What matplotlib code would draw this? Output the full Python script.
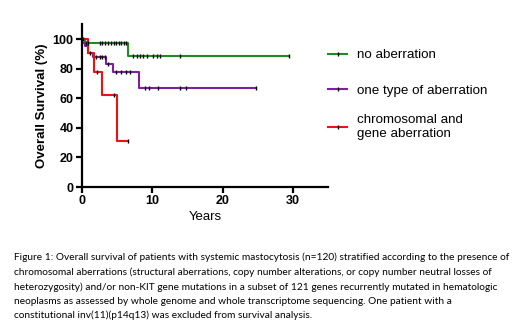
import matplotlib
matplotlib.use("Agg")
import matplotlib.pyplot as plt
import numpy as np
from matplotlib.lines import Line2D

# Kaplan-Meier step data (years, % survival)
no_ab_t = [0, 0.45, 6.6, 29.5]
no_ab_s = [100, 97.5, 88.3, 88.3]
no_ab_cens = [0.2, 0.6, 0.9, 2.5, 2.9, 3.3, 3.7, 4.1, 4.5, 4.8, 5.2, 5.6, 6.0, 6.3,
              7.3, 7.8, 8.3, 8.7, 9.3, 10.1, 10.7, 11.1, 14.0, 29.5]

one_ab_t = [0, 0.45, 0.8, 1.5, 3.4, 4.4, 8.1, 24.7]
one_ab_s = [97.3, 95.0, 90.6, 87.6, 83.1, 78.0, 66.9, 66.9]
one_ab_cens = [1.2, 2.0, 2.5, 2.9, 3.3, 3.7, 4.9, 5.5, 6.2, 6.8,
               9.0, 9.6, 10.8, 14.0, 14.8, 24.7]

both_t = [0, 0.8, 1.7, 2.9, 5.05, 6.5]
both_s = [100, 90.7, 78.0, 62.4, 31.2, 31.2]
both_cens = [2.1, 4.5, 6.5]

labels = ["no aberration", "one type of aberration", "chromosomal and\ngene aberration"]
colors = ["#1e8c1e", "#7d1fa5", "#f01010"]

caption = ("Figure 1: Overall survival of patients with systemic mastocytosis (n=120) stratified according to the presence of\n"
           "chromosomal aberrations (structural aberrations, copy number alterations, or copy number neutral losses of\n"
           "heterozygosity) and/or non-KIT gene mutations in a subset of 121 genes recurrently mutated in hematologic\n"
           "neoplasms as assessed by whole genome and whole transcriptome sequencing. One patient with a\n"
           "constitutional inv(11)(p14q13) was excluded from survival analysis.")

plt.rcParams["font.family"] = ["Liberation Sans", "DejaVu Sans"]

fig = plt.figure(figsize=(5.2, 3.36), dpi=100)
ax = fig.add_axes([82 / 520, 149 / 336, 246 / 520, 162.8 / 336])

groups = [(no_ab_t, no_ab_s, no_ab_cens), (one_ab_t, one_ab_s, one_ab_cens),
          (both_t, both_s, both_cens)]
for (t, s, cens), c in zip(groups, colors):
    ax.step(t, s, where="post", color=c, lw=1.5, zorder=2)
    idx = np.searchsorted(t, cens, side="right") - 1
    ax.plot(cens, np.array(s)[idx], ls="none", marker="|", color="k",
            markersize=3.5, mew=1.0, zorder=3)

ax.set_xlim(0, 35)
ax.set_ylim(0, 110)
ax.set_xticks([0, 10, 20, 30])
ax.set_yticks([0, 20, 40, 60, 80, 100])
for side in ("top", "right"):
    ax.spines[side].set_visible(False)
for side in ("left", "bottom"):
    ax.spines[side].set_linewidth(1.6)
ax.tick_params(width=1.6, length=4, labelsize=9, pad=2)
for lab in ax.get_xticklabels() + ax.get_yticklabels():
    lab.set_fontweight("bold")
ax.set_xlabel("Years", fontsize=9.5, labelpad=3)
ax.set_ylabel("Overall Survival (%)", fontsize=9.5, fontweight="bold", labelpad=3)

# one legend per entry, GraphPad-style evenly spaced rows
row_y = [55, 91, 127]
for c, lab, y in zip(colors, labels, row_y):
    h = Line2D([], [], color=c, lw=1.5, marker="|", markeredgecolor="k",
               markersize=3.5, mew=1.0)
    fig.legend([h], [lab], loc="center left", bbox_to_anchor=(328 / 520, 1 - y / 336),
               frameon=False, fontsize=9.6, handlelength=1.45, handletextpad=0.7,
               numpoints=1, borderaxespad=0, borderpad=0, labelspacing=0.3)

fig.text(14 / 520, 1 - 252.7 / 336, caption, ha="left", va="top", fontsize=7.25,
         family=["Lato", "DejaVu Sans"], linespacing=1.69)

fig.savefig("out.png", dpi=100)
